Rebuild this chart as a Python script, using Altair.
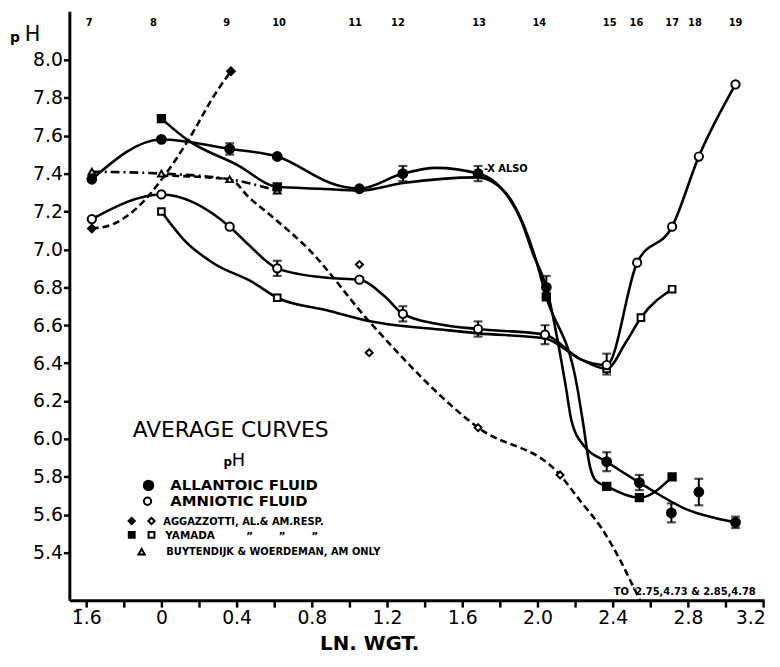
import altair as alt
import pandas as pd

# ---------------- values ----------------
day_labels = ["7", "8", "9", "10", "11", "12", "13", "14", "15", "16", "17", "18", "19"]
day_x = [-0.384, -0.042, 0.347, 0.626, 1.03, 1.258, 1.689, 2.01, 2.384, 2.526, 2.716, 2.837, 3.053]

x_tick_values = [-0.4, -0.2, 0.0, 0.2, 0.4, 0.6, 0.8, 1.0, 1.2, 1.4, 1.6, 1.8, 2.0, 2.2, 2.4, 2.6, 2.8, 3.0, 3.2]
x_tick_labels = ["1\u0304.6", "0", "0.4", "0.8", "1.2", "1.6", "2.0", "2.4", "2.8", "3.2"]
y_tick_values = [5.4, 5.6, 5.8, 6.0, 6.2, 6.4, 6.6, 6.8, 7.0, 7.2, 7.4, 7.6, 7.8, 8.0]

# Allantoic fluid average (filled circles); m = 1 where a marker is drawn
al_x = [-0.37, 0.0, 0.363, 0.616, 0.93, 1.053, 1.284, 1.46, 1.684, 1.81, 1.914, 1.975, 2.047, 2.15, 2.18, 2.25, 2.368, 2.542, 2.79, 3.053]
al_y = [7.37, 7.58, 7.53, 7.49, 7.34, 7.32, 7.40, 7.43, 7.40, 7.32, 7.15, 6.98, 6.80, 6.28, 6.10, 5.96, 5.88, 5.77, 5.63, 5.56]
al_m = [1, 1, 1, 1, 0, 1, 1, 0, 1, 0, 0, 0, 1, 0, 0, 0, 1, 1, 0, 1]
al_extra_x = [2.712, 2.858]
al_extra_y = [5.61, 5.72]
al_err_x = [0.363, 1.284, 1.684, 2.047, 2.368, 2.542, 2.712, 2.858, 3.053]
al_err_lo = [7.50, 7.36, 7.36, 6.74, 5.83, 5.73, 5.56, 5.65, 5.53]
al_err_hi = [7.56, 7.44, 7.44, 6.86, 5.93, 5.81, 5.66, 5.79, 5.59]

# Amniotic fluid average (open circles)
am_x = [-0.37, 0.0, 0.363, 0.458, 0.616, 0.88, 1.053, 1.19, 1.284, 1.51, 1.684, 2.04, 2.23, 2.368, 2.53, 2.716, 2.858, 3.053]
am_y = [7.16, 7.29, 7.12, 7.03, 6.90, 6.85, 6.84, 6.75, 6.66, 6.60, 6.58, 6.55, 6.42, 6.39, 6.93, 7.12, 7.49, 7.87]
am_m = [1, 1, 1, 0, 1, 0, 1, 0, 1, 0, 1, 1, 0, 1, 1, 1, 1, 1]
am_err_x = [0.616, 1.284, 1.684, 2.04, 2.368]
am_err_lo = [6.86, 6.62, 6.54, 6.50, 6.34]
am_err_hi = [6.94, 6.70, 6.62, 6.60, 6.45]

# Yamada, allantoic (filled squares)
ya_x = [0.0, 0.142, 0.405, 0.616, 0.85, 1.053, 1.284, 1.684, 1.83, 1.93, 1.99, 2.047, 2.21, 2.24, 2.28, 2.31, 2.368, 2.542, 2.716]
ya_y = [7.69, 7.575, 7.445, 7.33, 7.32, 7.31, 7.35, 7.38, 7.30, 7.12, 6.95, 6.75, 6.28, 6.10, 5.85, 5.78, 5.75, 5.69, 5.80]
ya_m = [1, 0, 0, 1, 0, 0, 0, 0, 0, 0, 0, 1, 0, 0, 0, 0, 1, 1, 1]

# Yamada, amniotic (open squares)
ym_x = [0.0, 0.125, 0.283, 0.48, 0.616, 0.879, 1.125, 1.51, 1.686, 2.04, 2.23, 2.368, 2.47, 2.55, 2.716]
ym_y = [7.20, 7.045, 6.923, 6.83, 6.745, 6.679, 6.618, 6.575, 6.557, 6.53, 6.42, 6.37, 6.51, 6.64, 6.79]
ym_m = [1, 0, 0, 0, 1, 0, 0, 0, 0, 0, 0, 1, 0, 1, 1]

# Aggazzotti, allantoic (filled diamonds, dashed)
ga_x = [-0.37, -0.261, -0.121, 0.0, 0.142, 0.291, 0.37]
ga_y = [7.11, 7.132, 7.227, 7.367, 7.575, 7.828, 7.94]
ga_m = [1, 0, 0, 0, 0, 0, 1]

# Aggazzotti, amniotic (open diamonds, dashed)
gm_x = [0.0, 0.363, 0.47, 0.616, 0.774, 1.105, 1.684, 2.12, 2.23, 2.34, 2.44, 2.51, 2.56]
gm_y = [7.39, 7.37, 7.27, 7.15, 7.01, 6.62, 6.06, 5.81, 5.67, 5.53, 5.36, 5.22, 5.12]
gm_m = [0, 0, 0, 0, 0, 0, 1, 1, 0, 0, 0, 0, 0]
gm_extra_x = [1.053, 1.105]
gm_extra_y = [6.92, 6.455]

# Buytendijk & Woerdeman, amniotic only (triangles, dash-dot)
bw_x = [-0.37, 0.0, 0.363, 0.616]
bw_y = [7.41, 7.40, 7.37, 7.31]

legend_rows = ["ALLANTOIC FLUID", "AMNIOTIC FLUID", "AGGAZZOTTI, AL.& AM.RESP.",
               "YAMADA", "BUYTENDIJK & WOERDEMAN, AM ONLY"]

# ---------------- layout ----------------
W, H = 702, 595
X_DOMAIN = [-0.4895, 3.205]
Y_DOMAIN = [5.1494, 8.2558]
FONT = "DejaVu Sans"

label_expr = ("round((datum.value + 0.4) * 5) % 2 == 1 ? '' : "
              + "[" + ",".join("'" + s + "'" for s in x_tick_labels) + "]"
              + "[round((datum.value + 0.4) * 2.5)]")

x_axis = alt.Axis(values=x_tick_values, labelExpr=label_expr, grid=False,
                  tickSize=7, tickWidth=2.5, labelPadding=2, labelFontSize=19,
                  labelFont=FONT, labelOverlap=False, labelFlush=False,
                  labelAlign={"condition": {"test": "datum.value > 3.1", "value": "right"},
                              "value": "center"},
                  labelOffset={"condition": {"test": "datum.value > 3.1", "value": 2},
                               "value": 0},
                  domainWidth=3, title="LN. WGT.", titleFont=FONT,
                  titleFontSize=20, titleFontWeight="bold", titleX=303,
                  titleY=50, titleAnchor="start", titleAlign="center",
                  titleBaseline="alphabetic")
y_axis = alt.Axis(values=y_tick_values, format=".1f", grid=False, tickSize=6,
                  tickWidth=2.5, labelPadding=1, labelFontSize=19,
                  labelFont=FONT, labelOverlap=False, labelFlush=False,
                  domainWidth=3, title=None)


def X(field="x"):
    return alt.X(f"{field}:Q", scale=alt.Scale(domain=X_DOMAIN, nice=False, zero=False), axis=x_axis)


def Y(field="y"):
    return alt.Y(f"{field}:Q", scale=alt.Scale(domain=Y_DOMAIN, nice=False, zero=False), axis=y_axis)


def df(xs, ys, ms=None):
    d = pd.DataFrame({"x": xs, "y": ys})
    if ms is not None:
        d["m"] = ms
    return d


layers = []


def curve(xs, ys, dash=None, clip=False):
    kw = dict(color="black", strokeWidth=2.6, interpolate="monotone", clip=clip)
    if dash:
        kw["strokeDash"] = dash
    layers.append(alt.Chart(df(xs, ys)).mark_line(**kw).encode(x=X(), y=Y()))


def markers(xs, ys, ms, shape, filled, size):
    d = df(xs, ys, ms)
    d = d[d["m"] == 1] if ms is not None else d
    layers.append(alt.Chart(d).mark_point(
        shape=shape, filled=True, fill="black" if filled else "white",
        stroke="black", strokeWidth=2, size=size, opacity=1).encode(x=X(), y=Y()))


def errbars(xs, lo, hi):
    d = pd.DataFrame({"x": xs, "lo": lo, "hi": hi})
    layers.append(alt.Chart(d).mark_rule(color="black", strokeWidth=2).encode(x=X(), y=Y("lo"), y2="hi:Q"))
    for f in ("lo", "hi"):
        layers.append(alt.Chart(d).mark_tick(color="black", orient="horizontal", size=9,
                                             thickness=2.2).encode(x=X(), y=Y(f)))


# curves
curve(ga_x, ga_y, dash=[7, 4])
curve(gm_x, gm_y, dash=[7, 4], clip=True)
curve(bw_x, bw_y, dash=[9, 4, 2, 4])
curve(ym_x, ym_y)
curve(ya_x, ya_y)
curve(am_x, am_y)
curve(al_x, al_y)

# error bars
errbars(al_err_x, al_err_lo, al_err_hi)
errbars(am_err_x, am_err_lo, am_err_hi)

# markers
markers(bw_x, bw_y, None, "triangle-up", False, 45)
markers(ga_x, ga_y, ga_m, "diamond", True, 60)
markers(gm_x, gm_y, gm_m, "diamond", False, 50)
markers(gm_extra_x, gm_extra_y, None, "diamond", False, 50)
markers(ym_x, ym_y, ym_m, "square", False, 45)
markers(ya_x, ya_y, ya_m, "square", True, 55)
markers(am_x, am_y, am_m, "circle", False, 70)
markers(al_x, al_y, al_m, "circle", True, 80)
markers(al_extra_x, al_extra_y, None, "circle", True, 80)

# day numbers along the top
layers.append(alt.Chart(pd.DataFrame({"x": day_x, "t": day_labels})).mark_text(
    font=FONT, fontSize=10, fontWeight="bold", color="black", baseline="middle").encode(
    x=X(), y=alt.value(12), text="t:N"))

# annotations in data coordinates
layers.append(alt.Chart(pd.DataFrame({"x": [1.715], "y": [7.426], "t": ["-X ALSO"]})).mark_text(
    font=FONT, fontSize=10, fontWeight="bold", color="black", align="left", baseline="middle").encode(
    x=X(), y=Y(), text="t:N"))
layers.append(alt.Chart(pd.DataFrame({"x": [2.405], "y": [5.176], "t": ["TO '2.75,4.73 & 2.85,4.78"]})).mark_text(
    font=FONT, fontSize=10, fontWeight="bold", color="black", align="left", baseline="alphabetic").encode(
    x=X(), y=Y(), text="t:N"))


def ptext(t, px, py, size, weight="normal", align="left"):
    layers.append(alt.Chart(pd.DataFrame({"t": [t]})).mark_text(
        font=FONT, fontSize=size, fontWeight=weight, color="black", align=align,
        baseline="alphabetic").encode(x=alt.value(px), y=alt.value(py), text="t:N"))


def pmark(px, py, shape, filled, size):
    layers.append(alt.Chart(pd.DataFrame({"a": [0]})).mark_point(
        shape=shape, filled=True, fill="black" if filled else "white", stroke="black",
        strokeWidth=2, size=size, opacity=1).encode(x=alt.value(px), y=alt.value(py)))


# y title "pH" at the top left
ptext("p", -55, 31, 14, "bold", "center")
ptext("H", -45, 30, 21, "normal")

# legend block
ptext("AVERAGE CURVES", 163, 430, 22, "normal", "center")
ptext("p", 160, 459, 12, "bold", "center")
ptext("H", 164, 459, 18, "normal")
ptext(legend_rows[0], 102, 484, 15, "bold")
pmark(80, 479, "circle", True, 90)
ptext(legend_rows[1], 102, 500, 15, "bold")
pmark(79, 495, "circle", False, 55)
ptext(legend_rows[2], 95, 519, 10, "bold")
pmark(63, 515, "diamond", True, 40)
pmark(83, 515, "diamond", False, 40)
ptext(legend_rows[3], 97, 533, 10.5, "bold")
for dx in (182, 215, 248):
    ptext("\u201d", dx, 534, 11, "bold", "center")
pmark(63, 529, "square", True, 35)
pmark(83, 529, "square", False, 35)
ptext(legend_rows[4], 98, 549, 10, "bold")
pmark(73, 546, "triangle-up", False, 40)

chart = alt.layer(*layers).properties(
    width=W, height=H,
    autosize=alt.AutoSizeParams(type="none"),
    padding={"left": 62, "top": 0, "right": 8, "bottom": 52},
).configure_view(stroke=None).configure_axis(
    domainColor="black", tickColor="black", labelColor="black", titleColor="black")

chart.save("out.html", embed_options={"renderer": "svg", "actions": False})
